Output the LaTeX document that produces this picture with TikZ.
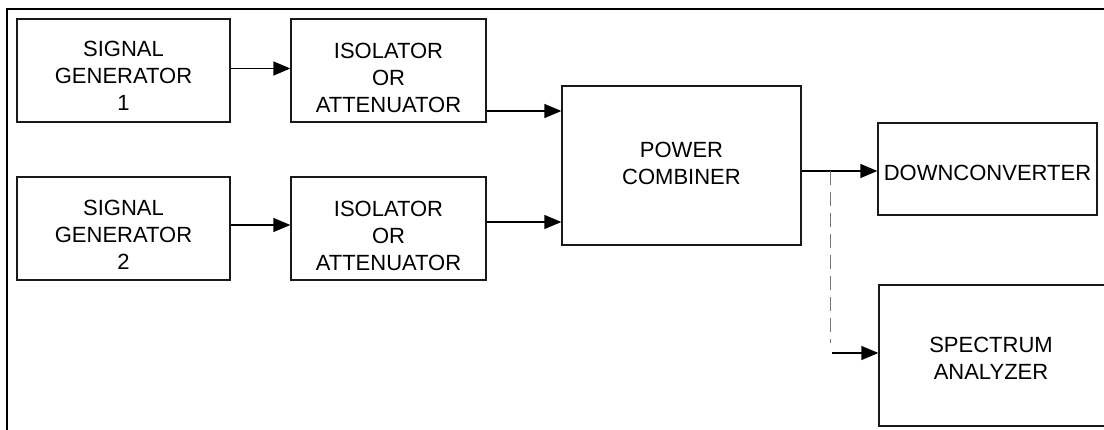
\documentclass[tikz,border=0pt]{standalone}
\usepackage{fontspec}
\setmainfont{Liberation Sans}
\usetikzlibrary{arrows.meta,calc}
\begin{document}
\begin{tikzpicture}[x=1pt,y=-1pt,
  box/.style={draw=black!90,line width=1.3pt,rectangle,inner sep=0pt},
  txt/.style={inner sep=0pt,align=center,font=\fontsize{22}{27}\selectfont},
  arr/.style={line width=1.3pt,-{Triangle[length=17pt,width=14pt]}},
  tapline/.style={draw=black!55,line width=1pt,dash pattern=on 14pt off 7pt}]
\useasboundingbox (0,0) rectangle (1104,430);
\clip (0,0) rectangle (1104,430);
% frame
\draw[line width=1.7pt] (7,432) -- (7,9) -- (1106,9);
% boxes
\node[box,minimum width=213pt,minimum height=103pt] (sg1) at (123.5,70.5) {};
\node[box,minimum width=195pt,minimum height=103pt] (iso1) at (388.5,70.5) {};
\node[box,minimum width=213pt,minimum height=103pt] (sg2) at (123.5,228.5) {};
\node[box,minimum width=195pt,minimum height=103pt] (iso2) at (388.5,228.5) {};
\node[box,minimum width=239pt,minimum height=159pt] (pc) at (681.5,165.5) {};
\node[box,minimum width=219pt,minimum height=92pt] (dc) at (987.5,169) {};
\node[box,minimum width=231pt,minimum height=141pt] (sa) at (994.5,355.5) {};
% texts
\node[txt] (sg1t) at (123.5,76.2) {SIGNAL\\GENERATOR\\1};
\node[txt] (iso1t) at (388.5,78) {ISOLATOR\\OR\\ATTENUATOR};
\node[txt] (sg2t) at (123.5,235.3) {SIGNAL\\GENERATOR\\2};
\node[txt] (iso2t) at (388.5,236) {ISOLATOR\\OR\\ATTENUATOR};
\node[txt] (pct) at (681.5,163.8) {POWER\\COMBINER};
\node[txt] (dct) at (987.5,173.3) {DOWNCONVERTER};
\node[txt] (sat) at (991,358.3) {SPECTRUM\\ANALYZER};
% connectors
\draw[arr] ([yshift=2pt]sg1.east) -- ([yshift=2pt]iso1.west);
\draw[arr] ([yshift=3.5pt]sg2.east) -- ([yshift=3.5pt]iso2.west);
\draw[arr] ([yshift=-40.5pt]iso1.east) coordinate (a1) -- (a1 -| pc.west);
\draw[arr] ([yshift=6.5pt]iso2.east) coordinate (a2) -- (a2 -| pc.west);
\draw[arr] ([yshift=-5.5pt]pc.east) coordinate (a3) -- (a3 -| dc.west);
\coordinate (tap) at (830,171);
\coordinate (tapend) at (830,343);
\draw[tapline] (tap) -- (tapend);
\coordinate (sastart) at (832,353);
\draw[arr] (sastart) -- (sastart -| sa.west);
\end{tikzpicture}
\end{document}
